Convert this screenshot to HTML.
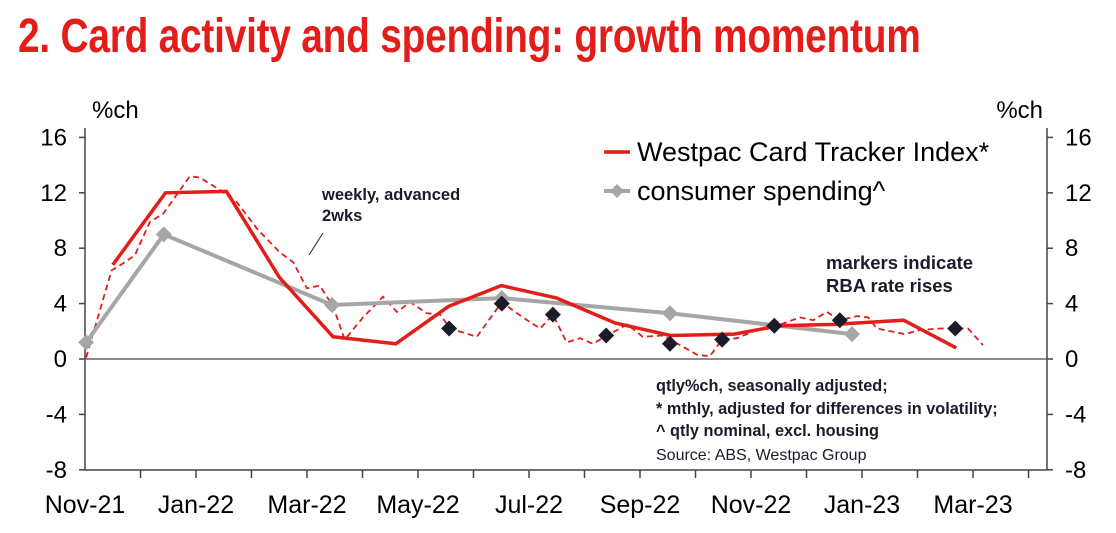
<!DOCTYPE html>
<html><head><meta charset="utf-8"><style>
body{margin:0;background:#fff;width:1116px;height:533px;overflow:hidden;font-family:"Liberation Sans",sans-serif}
#title{position:absolute;left:18px;top:9px;font-size:48px;font-weight:bold;color:#e31d1a;transform-origin:0 0;transform:scaleX(0.81);white-space:nowrap;letter-spacing:-0.3px}
</style></head><body>
<div id="title">2. Card activity and spending: growth momentum</div>
<svg id="chart" width="1116" height="533" style="position:absolute;left:0;top:0"></svg>
<script>
const xTickLabels=["Nov-21","Jan-22","Mar-22","May-22","Jul-22","Sep-22","Nov-22","Jan-23","Mar-23"];
const yTicks=[16,12,8,4,0,-4,-8];
const monthlyX=[0.5,1.45,2.55,3.5,4.47,5.6,6.55,7.5,8.5,9.55,10.55,11.7,12.5,13.5,14.75,15.7];
const monthlyY=[6.8,12,12.1,5.9,1.6,1.1,3.8,5.3,4.4,2.6,1.7,1.8,2.4,2.5,2.8,0.8];
const qtrX=[0.02,1.42,4.45,7.51,10.54,13.82];
const qtrY=[1.2,9.0,3.9,4.4,3.3,1.8];
const weeklyX=[0.02,0.48,0.72,0.9,1.17,1.41,1.89,2.07,2.43,2.74,3.1,3.51,3.75,4.0,4.23,4.47,4.68,5.01,5.37,5.62,5.86,6.16,6.4,6.58,7.06,7.51,7.89,8.2,8.43,8.68,8.92,9.15,9.41,9.77,10.05,10.41,10.72,11.03,11.26,11.48,11.75,12.11,12.4,12.88,13.12,13.37,13.6,13.91,14.11,14.27,14.77,15.05,15.41,15.71,15.91,16.18];
const weeklyY=[0.1,6.4,7.0,7.5,9.9,10.5,13.2,13.1,12.2,11.3,9.4,7.7,7.0,5.1,5.3,3.8,1.4,3.0,4.5,3.4,4.1,3.3,3.2,2.2,1.6,4.1,3.0,2.2,3.2,1.2,1.5,1.1,1.7,2.5,1.6,1.7,1.0,0.3,0.2,1.4,1.5,2.1,2.3,3.0,2.8,3.4,2.8,3.1,3.0,2.2,1.8,2.1,2.2,2.2,2.2,1.0];
const rbaX=[6.56,7.51,8.43,9.39,10.54,11.48,12.42,13.6,15.68];
const rbaY=[2.2,4.0,3.2,1.7,1.1,1.4,2.4,2.8,2.2];

const svg=document.getElementById('chart');const NS="http://www.w3.org/2000/svg";
const L=85,R=1047,T=138,B=470;
const xs=m=>L+m*55.5;
const ys=v=>359-v*13.85;
function mk(t,a,p){const e=document.createElementNS(NS,t);for(const k in a)e.setAttribute(k,a[k]);(p||svg).appendChild(e);return e;}
function txt(s,x,y,sz,anchor,w,fill){const e=mk('text',{x:x,y:y,'font-size':sz,'text-anchor':anchor||'start','font-weight':w||'normal',fill:fill||'#000','font-family':'Liberation Sans, sans-serif'});e.textContent=s;return e;}
let e;
e=mk('line',{x1:L,y1:T-10,x2:L,y2:B,stroke:'#444','stroke-width':1.5});

e=mk('line',{x1:R,y1:T-10,x2:R,y2:B,stroke:'#444','stroke-width':1.5});

e=mk('line',{x1:L,y1:B,x2:R,y2:B,stroke:'#444','stroke-width':1.5});

e=mk('line',{x1:L,y1:ys(0),x2:R,y2:ys(0),stroke:'#666','stroke-width':1.5});

yTicks.forEach(v=>{
  mk('line',{x1:L-6,y1:ys(v),x2:L,y2:ys(v),stroke:'#444','stroke-width':1.5});
  mk('line',{x1:R,y1:ys(v),x2:R+6,y2:ys(v),stroke:'#444','stroke-width':1.5});
  e=txt(String(v),L-18,ys(v)+8,24,'end');
  
  e=txt(String(v),R+18,ys(v)+8,24,'start');
  
});
for(let m=1;m<=17;m++){const x=xs(m);if(x<R)mk('line',{x1:x,y1:B,x2:x,y2:B+8,stroke:'#444','stroke-width':1.5});}
xTickLabels.forEach((s,i)=>{e=txt(s,xs(i*2),B+43,25,'middle');
  });
e=txt('%ch',92,118,24);
e=txt('%ch',1043,118,24,'end');
function path(X,Y){return X.map((x,i)=>(i?'L':'M')+xs(x).toFixed(1)+','+ys(Y[i]).toFixed(1)).join(' ');}
e=mk('path',{d:path(weeklyX,weeklyY),fill:'none',stroke:'#e31d1a','stroke-width':1.8,'stroke-dasharray':'6,4'});

e=mk('path',{d:path(qtrX,qtrY),fill:'none',stroke:'#a6a6a6','stroke-width':4});

qtrX.forEach((x,i)=>{const cx=xs(x),cy=ys(qtrY[i]);
  e=mk('polygon',{points:`${cx},${cy-8} ${cx+8},${cy} ${cx},${cy+8} ${cx-8},${cy}`,fill:'#a6a6a6'});
  });
e=mk('path',{d:path(monthlyX,monthlyY),fill:'none',stroke:'#e31d1a','stroke-width':3.5});

rbaX.forEach((x,i)=>{const cx=xs(x),cy=ys(rbaY[i]);
  e=mk('polygon',{points:`${cx},${cy-8} ${cx+8},${cy} ${cx},${cy+8} ${cx-8},${cy}`,fill:'#1b1b2a'});
  });
e=mk('line',{x1:604,y1:152,x2:630,y2:152,stroke:'#e31d1a','stroke-width':3.5});

e=txt('Westpac Card Tracker Index*',637,161,27);
e=mk('line',{x1:604,y1:191,x2:630,y2:191,stroke:'#a6a6a6','stroke-width':4});

mk('polygon',{points:'617,184 624,191 617,198 610,191',fill:'#a6a6a6'});
e=txt('consumer spending^',637,200,27);
e=txt('weekly, advanced',322,200,16.5,'start','bold','#1b1b2a');
txt('2wks',322,221,16.5,'start','bold','#1b1b2a');
mk('line',{x1:323,y1:233,x2:309,y2:255,stroke:'#222','stroke-width':1});
e=txt('markers indicate',826,269,18.5,'start','bold','#1b1b2a');
txt('RBA rate rises',826,292,18.5,'start','bold','#1b1b2a');
e=txt('qtly%ch, seasonally adjusted;',656,391,16.3,'start','bold','#1b1b2a');
txt('* mthly, adjusted for differences in volatility;',656,414,16.3,'start','bold','#1b1b2a');
txt('^ qtly nominal, excl. housing',656,436,16.3,'start','bold','#1b1b2a');
e=txt('Source: ABS, Westpac Group',656,460,16,'start','normal','#1b1b2a');
</script>
</body></html>
